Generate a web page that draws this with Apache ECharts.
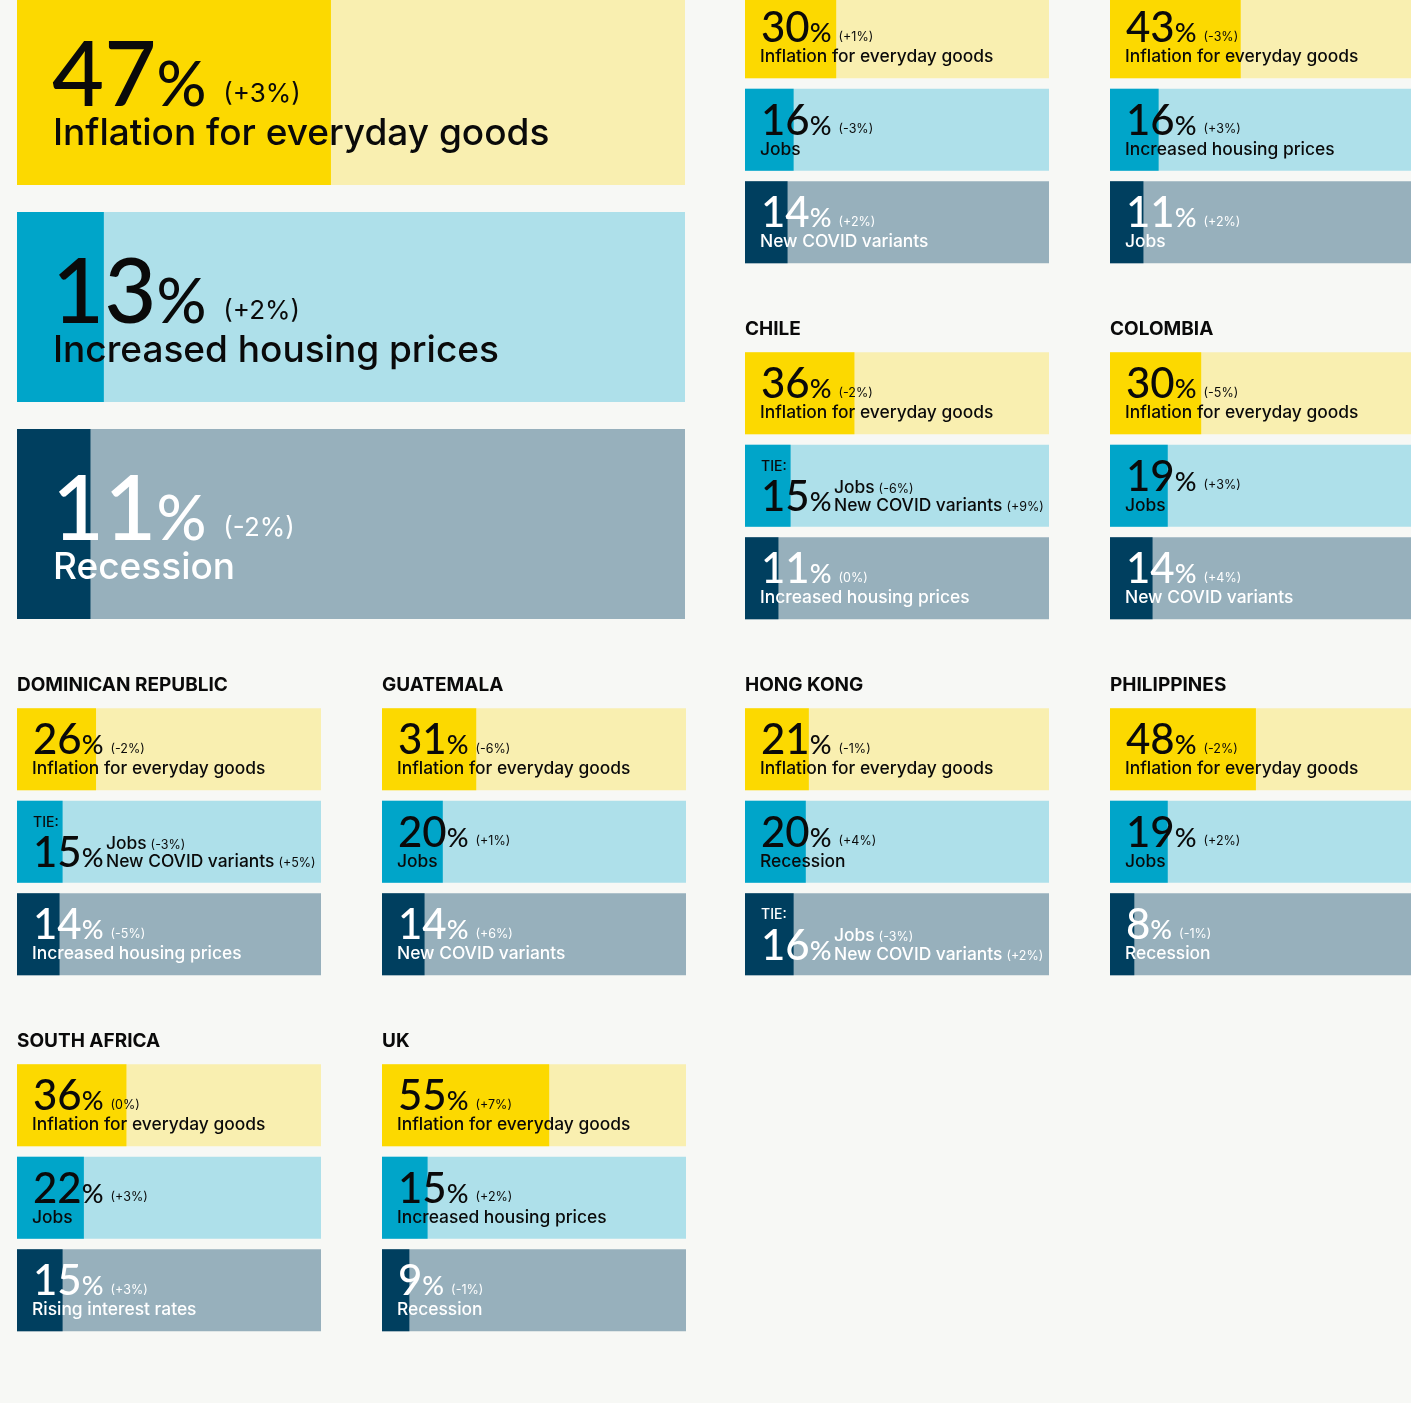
<!DOCTYPE html>
<html>
<head>
<meta charset="utf-8">
<script src="https://cdn.jsdelivr.net/npm/echarts@6/dist/echarts.min.js"></script>
<style>
  html, body { margin: 0; padding: 0; background: #f7f8f5; }
  #chart { width: 1411px; height: 1403px; }
</style>
</head>
<body>
<div id="chart"></div>
<script>
// global panel
const globalValues = [47, 13, 11];
const globalChanges = ['+3%', '+2%', '-2%'];
const globalTopics = ['Inflation for everyday goods', 'Increased housing prices', 'Recession'];

// country panels (the first two are cut off at the top, their names are not visible)
const countries = ['', '', 'CHILE', 'COLOMBIA', 'DOMINICAN REPUBLIC', 'GUATEMALA', 'HONG KONG', 'PHILIPPINES', 'SOUTH AFRICA', 'UK'];
const countryValues = [
  [30, 16, 14],
  [43, 16, 11],
  [36, 15, 11],
  [30, 19, 14],
  [26, 15, 14],
  [31, 20, 14],
  [21, 20, 16],
  [48, 19, 8],
  [36, 22, 15],
  [55, 15, 9]
];
const countryChanges = [
  ['+1%', '-3%', '+2%'],
  ['-3%', '+3%', '+2%'],
  ['-2%', ['-6%', '+9%'], '0%'],
  ['-5%', '+3%', '+4%'],
  ['-2%', ['-3%', '+5%'], '-5%'],
  ['-6%', '+1%', '+6%'],
  ['-1%', '+4%', ['-3%', '+2%']],
  ['-2%', '+2%', '-1%'],
  ['0%', '+3%', '+3%'],
  ['+7%', '+2%', '-1%']
];
const countryTopics = [
  ['Inflation for everyday goods', 'Jobs', 'New COVID variants'],
  ['Inflation for everyday goods', 'Increased housing prices', 'Jobs'],
  ['Inflation for everyday goods', ['Jobs', 'New COVID variants'], 'Increased housing prices'],
  ['Inflation for everyday goods', 'Jobs', 'New COVID variants'],
  ['Inflation for everyday goods', ['Jobs', 'New COVID variants'], 'Increased housing prices'],
  ['Inflation for everyday goods', 'Jobs', 'New COVID variants'],
  ['Inflation for everyday goods', 'Recession', ['Jobs', 'New COVID variants']],
  ['Inflation for everyday goods', 'Jobs', 'Recession'],
  ['Inflation for everyday goods', 'Jobs', 'Rising interest rates'],
  ['Inflation for everyday goods', 'Increased housing prices', 'Recession']
];

const NUM_FONT = 'Lato';
const TEXT_FONT = 'Inter';
const fillColors = ['#fcd900', '#00a5c9', '#003f5f'];
const bgColors = ['#f9efb0', '#aee0ea', '#97b0bc'];
const inkColors = ['#0a0a0a', '#0a0a0a', '#ffffff'];

// layout
const colX = [17, 382, 745, 1110];
const slots = [[2, 0], [3, 0], [2, 1], [3, 1], [0, 2], [1, 2], [2, 2], [3, 2], [0, 3], [1, 3]];
const rowPitch = 356;
const firstBarTop = 352.3 - rowPitch; // top of first bar in row 0

const bigSize = {
  barWidth: 190, band: 217, numX: 35, textX: 36, numY: 127, textY: 157,
  big: 90, pct: 62, chg: 26, text: 37, chgGap: 17, lift: 3
};
const smallSize = {
  barWidth: 82, band: 92.5, numX: 16, textX: 15, numY: 53.5, textY: 69.3,
  big: 42, pct: 27, chg: 12.5, text: 17.4, chgGap: 7, lift: 1,
  tie: 14, tieNumY: 74, tieTextX: 89, tieTextY: 70.2, tieLine: 18.4
};

const K = 0.31; // canvas 'middle' to baseline, in em

// each token is drawn centred in a box of `height`, boxes sit on the line bottom,
// so the box heights below put all baselines of one line on the same y
function richFor(s) {
  const drop = (0.5 - K) * s.big; // big number baseline above line bottom
  const common = { verticalAlign: 'bottom', textBorderWidth: 0 };
  const box = (h) => ({ height: h, lineHeight: h });
  const r = {
    n: { ...common, ...box(s.big), fontFamily: NUM_FONT, fontSize: s.big, fontWeight: 500 },
    p: { ...common, ...box(2 * (drop + K * s.pct)), fontFamily: NUM_FONT, fontSize: s.pct, fontWeight: 500 },
    c: {
      ...common, ...box(2 * (drop + s.lift + K * s.chg)), fontFamily: TEXT_FONT, fontSize: s.chg,
      fontWeight: 400, padding: [0, 0, 0, s.chgGap]
    },
    t: { ...common, ...box(s.text), fontFamily: TEXT_FONT, fontSize: s.text, fontWeight: 500 }
  };
  if (s.tie) {
    const tDrop = s.tieLine / 2 - K * s.text;
    r.tie = { ...common, ...box(20.7), fontFamily: TEXT_FONT, fontSize: s.tie, fontWeight: 500 };
    r.tt = { ...common, ...box(s.tieLine), fontFamily: TEXT_FONT, fontSize: s.text, fontWeight: 500 };
    r.tc = {
      ...common, ...box(2 * (tDrop + K * s.chg)), fontFamily: TEXT_FONT, fontSize: s.chg,
      fontWeight: 400, padding: [0, 0, 0, 4]
    };
  }
  return r;
}

const grids = [];
const xAxes = [];
const yAxes = [];
const series = [];
const titles = [];

function addPanel(left, barTop, width, s, values, changes, topics) {
  const idx = grids.length;
  const top = barTop - (s.band - s.barWidth) / 2;
  grids.push({ left: left, top: top, width: width, height: s.band * 3, outerBoundsMode: 'none', containLabel: false });
  xAxes.push({ gridIndex: idx, type: 'value', min: 0, max: 100, show: false });
  yAxes.push({ gridIndex: idx, type: 'category', data: ['a', 'b', 'c'], inverse: true, show: false });

  const base = {
    type: 'bar', xAxisIndex: idx, yAxisIndex: idx, barWidth: s.barWidth, barGap: '-100%',
    silent: true, animation: false
  };
  const rich = richFor(s);
  const labelBase = { show: true, align: 'left', verticalAlign: 'bottom', textBorderWidth: 0, rich: rich };

  series.push({ ...base, data: values.map((v, i) => ({ value: 100, itemStyle: { color: bgColors[i] } })) });
  series.push({ ...base, data: values.map((v, i) => ({ value: v, itemStyle: { color: fillColors[i] } })) });

  // number line
  series.push({
    ...base, label: labelBase, itemStyle: { color: 'rgba(0,0,0,0)' },
    data: values.map((v, i) => {
      const tie = Array.isArray(topics[i]);
      return {
        value: 100,
        label: tie
          ? { position: [s.numX, s.tieNumY], color: inkColors[i], formatter: `{tie|TIE:}\n{n|${v}}{p|%}` }
          : { position: [s.numX, s.numY], color: inkColors[i], formatter: `{n|${v}}{p|%}{c|(${changes[i]})}` }
      };
    })
  });
  // topic line(s)
  series.push({
    ...base, label: labelBase, itemStyle: { color: 'rgba(0,0,0,0)' },
    data: values.map((v, i) => {
      const tie = Array.isArray(topics[i]);
      return {
        value: 100,
        label: tie
          ? {
              position: [s.tieTextX, s.tieTextY], color: inkColors[i],
              formatter: `{tt|${topics[i][0]}}{tc|(${changes[i][0]})}\n{tt|${topics[i][1]}}{tc|(${changes[i][1]})}`
            }
          : { position: [s.textX, s.textY], color: inkColors[i], formatter: `{t|${topics[i]}}` }
      };
    })
  });
}

// global panel spans the two left columns
addPanel(17, -5, 668, bigSize, globalValues, globalChanges, globalTopics);

countries.forEach((name, k) => {
  const [c, r] = slots[k];
  const barTop = firstBarTop + rowPitch * r;
  addPanel(colX[c], barTop, 304, smallSize, countryValues[k], countryChanges[k], countryTopics[k]);
  if (name) {
    titles.push({
      text: name, left: colX[c], top: barTop - 32.7, padding: 0,
      textStyle: { fontFamily: TEXT_FONT, fontSize: 19, fontWeight: 700, color: '#0a0a0a', lineHeight: 19 }
    });
  }
});

const chart = echarts.init(document.getElementById('chart'));
chart.setOption({
  backgroundColor: '#f7f8f5',
  animation: false,
  title: titles,
  grid: grids,
  xAxis: xAxes,
  yAxis: yAxes,
  series: series
});
</script>
</body>
</html>
